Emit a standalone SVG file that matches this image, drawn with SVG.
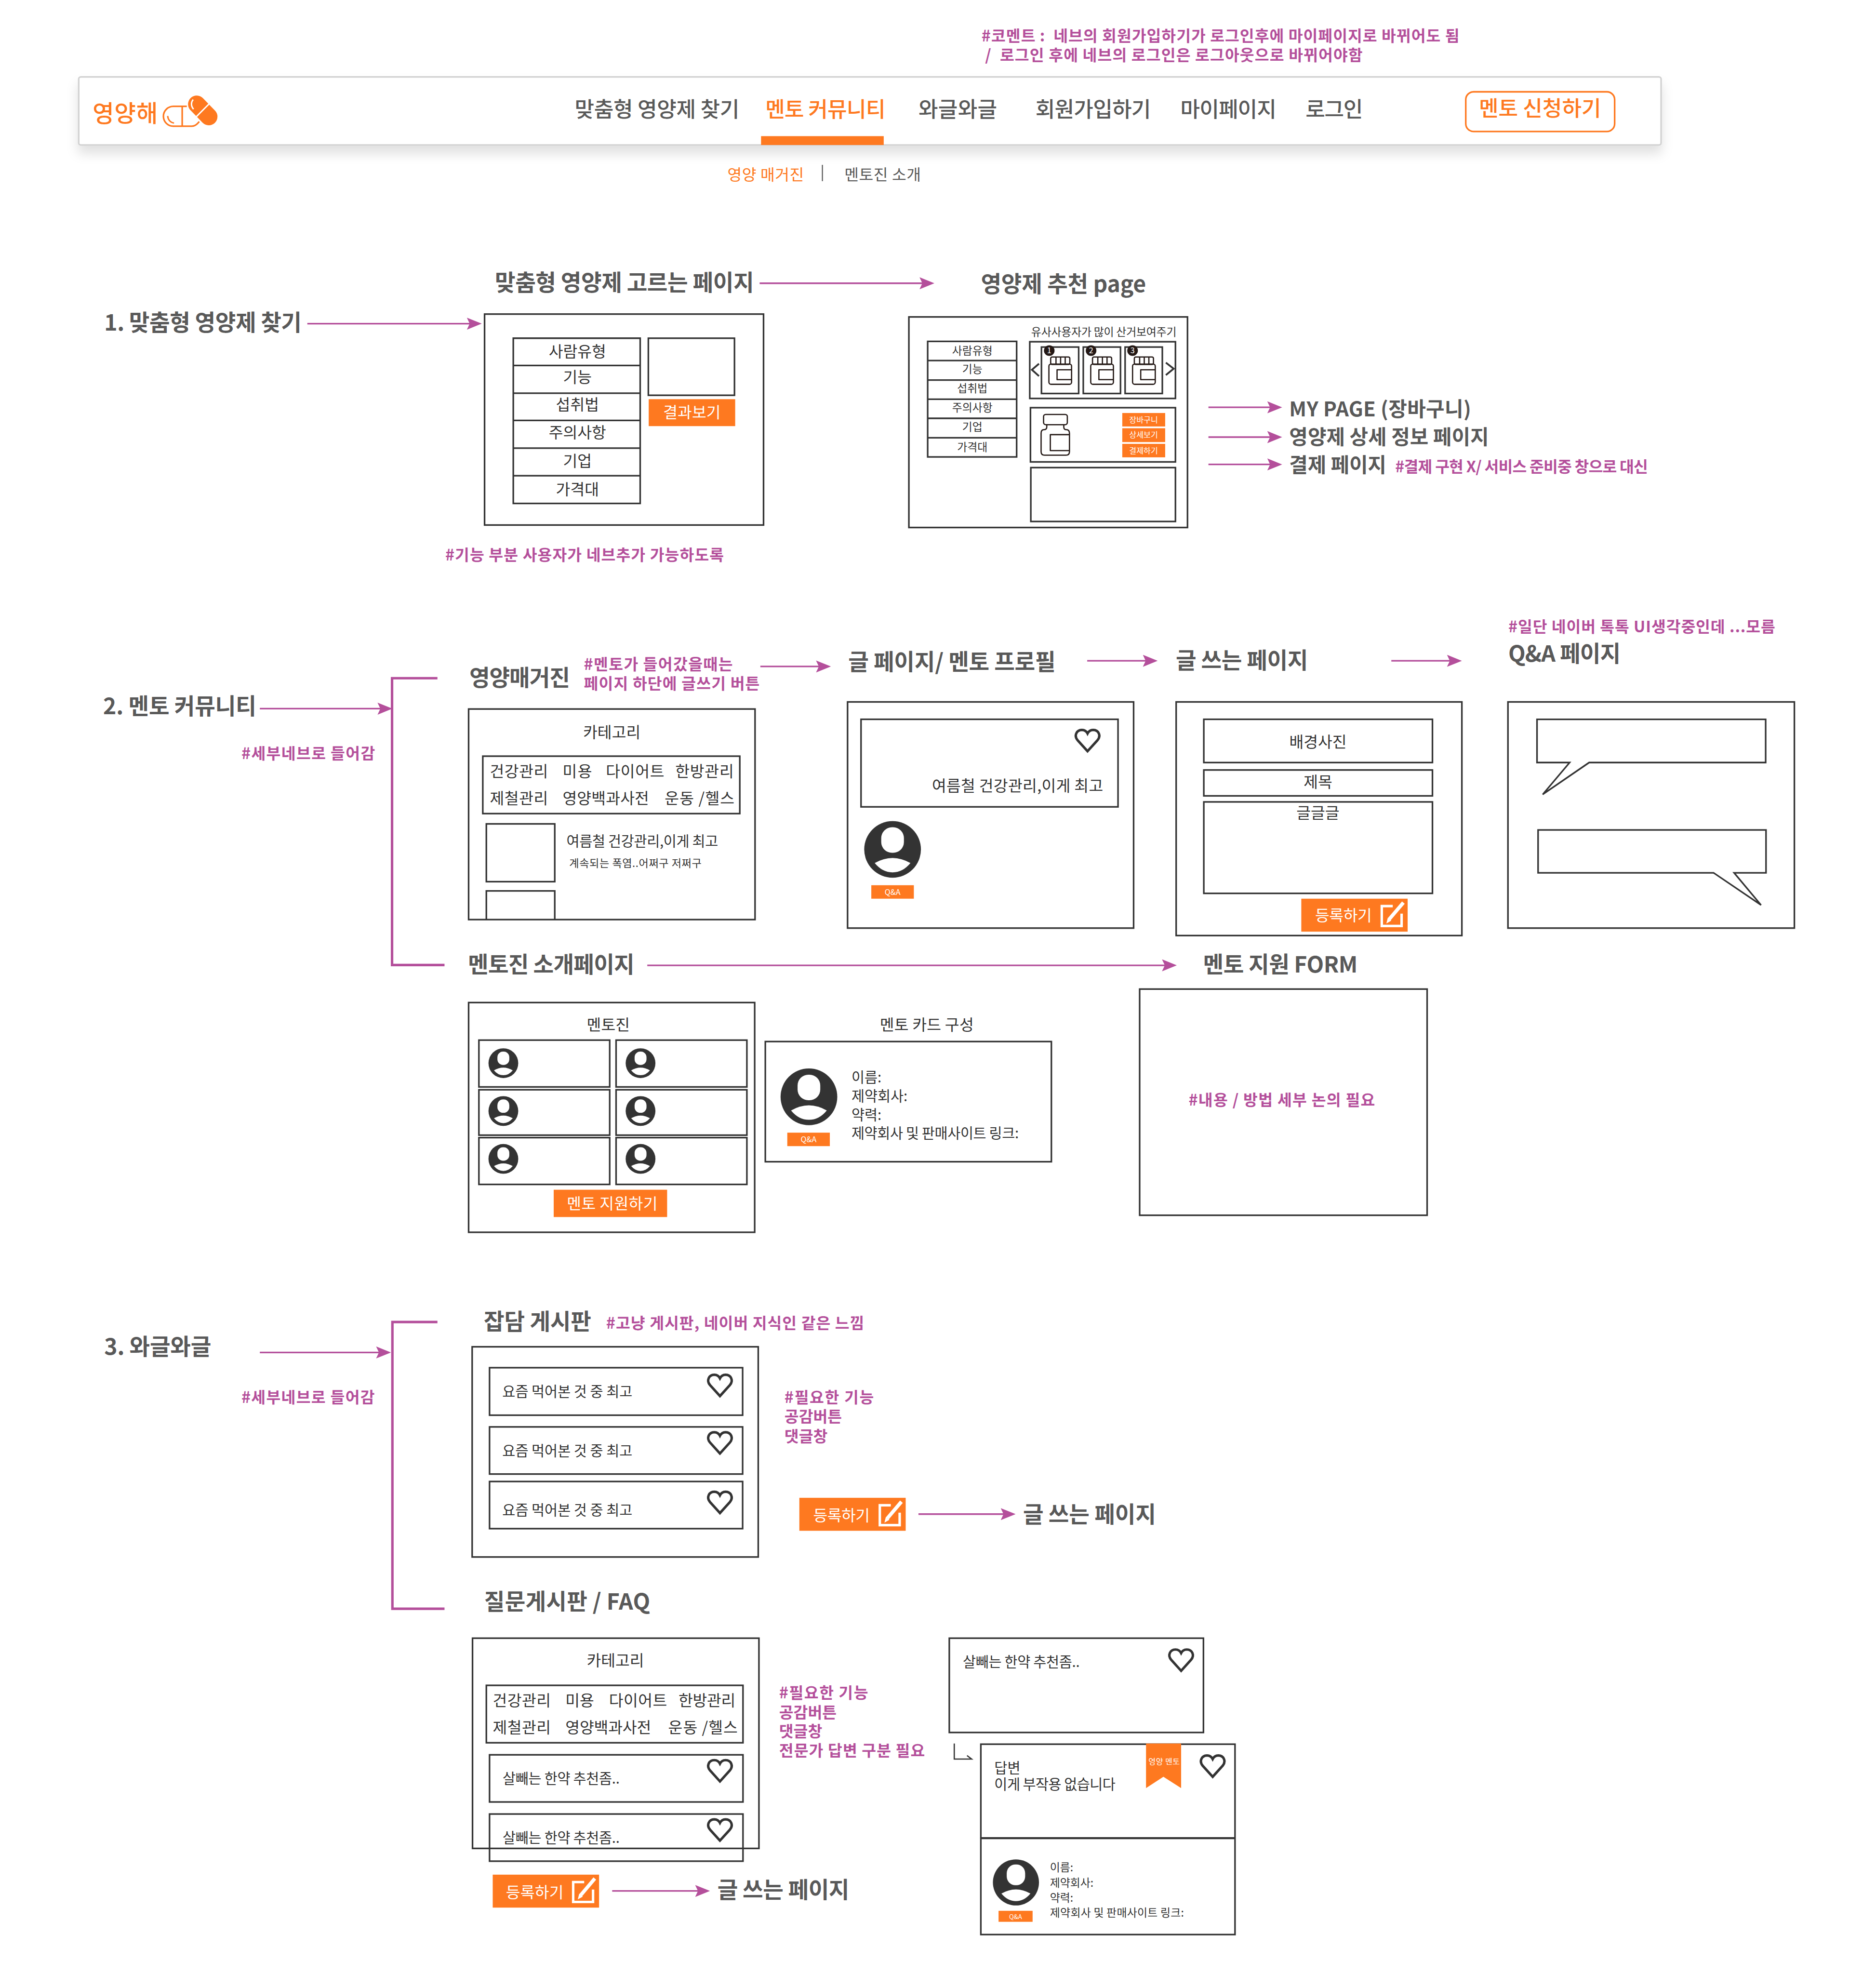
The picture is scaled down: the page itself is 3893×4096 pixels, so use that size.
<svg xmlns="http://www.w3.org/2000/svg" xmlns:xlink="http://www.w3.org/1999/xlink" width="3893" height="4096" viewBox="0 0 3893 4096">
<style>
text{font-family:"Noto Sans CJK KR","Noto Sans",sans-serif;transform:translate(4px,3px);white-space:pre}
.h{font-size:63px;fill:#595959;font-weight:700}
.h58{font-size:57px}
.n{font-size:60px;fill:#595959;font-weight:500}
.p{font-size:44px;fill:#b44f9b;font-weight:700}
.b{font-size:44px;fill:#333}
.m{text-anchor:middle}
.s40{font-size:40px}
.s31{font-size:31px}
.s30{font-size:30px}
.w{fill:#fff}
.o{fill:#fe7920}
.f{fill:none;stroke:#333;stroke-width:4.5}
.btn{fill:#fe7920}
.a{fill:none;stroke:#b44f9b;stroke-width:4.5;marker-end:url(#ah)}
.br{fill:none;stroke:#b44f9b;stroke-width:7}
.bt{fill:none;stroke:#231815;stroke-width:3.5;stroke-linejoin:round}
.hrt{fill:none;stroke:#333;stroke-width:7;stroke-linejoin:miter}
.ch{fill:none;stroke:#333;stroke-width:5}
.ed{fill:none;stroke:#fff;stroke-width:7}
</style>
<defs>
<marker id="ah" markerUnits="userSpaceOnUse" markerWidth="42" markerHeight="34" refX="30" refY="17" orient="auto"><path d="M0 0L42 17L0 34L8 17Z" fill="#b44f9b"/></marker>
<filter id="sh" x="-3%" y="-30%" width="106%" height="170%"><feDropShadow dx="0" dy="22" stdDeviation="16" flood-color="#000" flood-opacity="0.12"/></filter>
<g id="heart"><path class="hrt" d="M0 30L-28 -1C-39 -14 -31 -30 -16 -30C-8 -30 -3 -26 0 -20C3 -26 8 -30 16 -30C31 -30 39 -14 28 -1Z"/></g>
<g id="av"><circle r="1" fill="#333"/><rect x="-.4" y="-.78" width=".8" height=".9" rx=".38" fill="#fff"/><path d="M-.63 .48Q0 .12 .63 .48Q.36 .81 0 .81Q-.36 .81 -.63 .48Z" fill="#fff"/></g>
<g id="bottle"><rect class="bt" x="5" y="0" width="54" height="21" rx="4"/><path class="bt" d="M20 0V21M33 0V21M46 0V21"/><rect class="bt" x="0" y="20" width="64" height="57" rx="6"/><path class="bt" d="M64 36H23V64H64"/></g>
<g id="edit"><rect width="300" height="93" class="btn"/><path class="ed" d="M258 21H227V77H283V42"/><path d="M248 58L288 11" stroke="#fff" stroke-width="10" fill="none"/><path d="M240 70L244 54L254 62Z" fill="#fff"/></g>
</defs>
<rect width="3893" height="4096" fill="#fff"/>
<g transform="scale(0.7356) translate(-6 0)">

<g id="nav">
<rect x="228" y="217" width="4464" height="192" rx="6" fill="#fff" stroke="#d2d2d2" stroke-width="4.5" filter="url(#sh)"/>
<rect x="2153" y="384" width="346" height="25" class="o"/>
<text x="263" y="341" class="o" style="font-size:66px;font-weight:500" textLength="184">영양해</text>
<g id="logo-pill" transform="translate(2 0)">
<path d="M531 300H493A28 28 0 0 0 493 356H545C553 356 560 351 566 343" fill="none" stroke="#fe7920" stroke-width="4.5"/>
<path d="M518 300V356" stroke="#fe7920" stroke-width="4.5"/>
<path d="M477 327C478 338 485 346 495 347" fill="none" stroke="#fe7920" stroke-width="4"/>
<path d="M559 294L593 329" stroke="#fff" stroke-width="56" stroke-linecap="round"/>
<path d="M559 294L593 329" stroke="#fe7920" stroke-width="49" stroke-linecap="round"/>
<path d="M558 329L596 291" stroke="#fff" stroke-width="4"/>
<path d="M549 281C542 289 543 300 550 308" fill="none" stroke="#fff" stroke-width="4"/>
</g>
<text x="1623" y="327" class="n" textLength="465">맞춤형 영양제 찾기</text>
<text x="2161" y="327" class="n o" textLength="339">멘토 커뮤니티</text>
<text x="2593" y="327" class="n" textLength="222">와글와글</text>
<text x="2923" y="327" class="n" textLength="326">회원가입하기</text>
<text x="3332" y="327" class="n" textLength="271">마이페이지</text>
<text x="3685" y="327" class="n" textLength="162">로그인</text>
<rect x="4141" y="259" width="420" height="112" rx="22" fill="#fff" stroke="#fe7920" stroke-width="4.5"/>
<text x="4174" y="324" class="n o" textLength="345">멘토 신청하기</text>
<text x="2054" y="506" class="b o" textLength="216">영양 매거진</text>
<path d="M2326 465V511" stroke="#555" stroke-width="3"/>
<text x="2384" y="506" class="b" style="fill:#595959" textLength="216">멘토진 소개</text>
</g>
<g id="comment-top">
<text x="2771" y="114" class="p" textLength="1348">#코멘트 :  네브의 회원가입하기가 로그인후에 마이페이지로 바뀌어도 됨</text>
<text x="2781" y="168" class="p" textLength="1065">/  로그인 후에 네브의 로그인은 로그아웃으로 바뀌어야함</text>
</g>

<g id="connectors">
<path class="a" d="M873 913H1353"/>
<path class="a" d="M2149 799H2630"/>
<path class="a" d="M3415 1149H3611"/>
<path class="a" d="M3415 1233H3611"/>
<path class="a" d="M3415 1310H3611"/>
<path class="a" d="M739 1999H1101"/>
<path class="a" d="M2151 1880H2338"/>
<path class="a" d="M3073 1864H3260"/>
<path class="a" d="M3931 1864H4118"/>
<path class="a" d="M1832 2723H3314"/>
<path class="a" d="M739 3815H1097"/>
<path class="a" d="M2597 4271H2859"/>
<path class="a" d="M1733 5334H1997"/>
<path class="br" d="M1240 1913H1112V2722H1260"/>
<path class="br" d="M1240 3729H1113V4538H1260"/>
</g>

<g id="sec1">
<text x="296" y="930" class="h" textLength="557">1. 맞춤형 영양제 찾기</text>
<text x="1398" y="817" class="h" textLength="731">맞춤형 영양제 고르는 페이지</text>
<text x="2769" y="821" class="h" textLength="466">영양제 추천 page</text>
<text x="1258" y="1578" class="p" textLength="786">#기능 부분 사용자가 네브추가 가능하도록</text>
<text x="3639" y="1172" class="h h58" textLength="513">MY PAGE (장바구니)</text>
<text x="3639" y="1250" class="h h58" textLength="563">영양제 상세 정보 페이지</text>
<text x="3639" y="1329" class="h h58" textLength="274">결제 페이지</text>
<text x="3938" y="1329" class="p" textLength="713">#결제 구현 X/ 서비스 준비중 창으로 대신</text>
</g>

<g id="page-select">
<rect class="f" x="1373" y="886" width="787" height="595"/>
<path class="f" d="M1454 954H1812V1420H1454ZM1454 1031H1812M1454 1109H1812M1454 1186H1812M1454 1264H1812M1454 1342H1812"/>
<text x="1631" y="1005" class="b m">사람유형</text>
<text x="1631" y="1076" class="b m">기능</text>
<text x="1631" y="1154" class="b m">섭취법</text>
<text x="1631" y="1233" class="b m">주의사항</text>
<text x="1631" y="1313" class="b m">기업</text>
<text x="1631" y="1393" class="b m">가격대</text>
<rect class="f" x="1835" y="954" width="243" height="161"/>
<rect class="btn" x="1836" y="1126" width="244" height="76"/>
<text x="1954" y="1176" class="b m w">결과보기</text>
</g>

<g id="page-recommend">
<rect class="f" x="2570" y="894" width="786" height="594"/>
<path class="f" d="M2623 963H2874V1289H2623ZM2623 1017H2874M2623 1072H2874M2623 1126H2874M2623 1180H2874M2623 1235H2874"/>
<text x="2745" y="997" class="b m s31">사람유형</text>
<text x="2745" y="1049" class="b m s31">기능</text>
<text x="2745" y="1103" class="b m s31">섭취법</text>
<text x="2745" y="1158" class="b m s31">주의사항</text>
<text x="2745" y="1213" class="b m s31">기업</text>
<text x="2745" y="1269" class="b m s31">가격대</text>
<text x="2911" y="945" class="b s31" textLength="410">유사사용자가 많이 산거보여주기</text>
<rect class="f" x="2911" y="964" width="411" height="160"/>
<path class="ch" d="M2937 1026L2917 1043L2937 1061M3295 1023L3317 1040L3295 1058"/>
<rect class="f" x="2944" y="979" width="105" height="131"/>
<rect class="f" x="3062" y="979" width="105" height="131"/>
<rect class="f" x="3180" y="979" width="105" height="131"/>
<use href="#bottle" xlink:href="#bottle" x="2965" y="1007"/>
<use href="#bottle" xlink:href="#bottle" x="3083" y="1007"/>
<use href="#bottle" xlink:href="#bottle" x="3201" y="1007"/>
<circle cx="2966" cy="989" r="15" fill="#231815"/>
<circle cx="3084" cy="989" r="15" fill="#231815"/>
<circle cx="3201" cy="989" r="15" fill="#231815"/>
<text x="2962" y="994" class="m w" style="font-size:22px">1</text>
<text x="3080" y="994" class="m w" style="font-size:22px">2</text>
<text x="3197" y="994" class="m w" style="font-size:22px">3</text>
<rect class="f" x="2913" y="1150" width="409" height="153"/>
<rect class="bt" x="2950" y="1169" width="67" height="29" rx="6"/>
<path class="bt" d="M2959 1198V1204Q2959 1212 2951 1212Q2943 1212 2943 1222V1274Q2943 1284 2953 1284H3013Q3023 1284 3023 1274V1222Q3023 1212 3014 1212Q3007 1212 3007 1204V1198"/>
<path class="bt" d="M3023 1226H2969V1271H3023"/>
<rect class="btn" x="3172" y="1165" width="121" height="38"/>
<rect class="btn" x="3172" y="1208" width="121" height="39"/>
<rect class="btn" x="3172" y="1252" width="121" height="38"/>
<text x="3228" y="1189" class="m w" style="font-size:22px">장바구니</text>
<text x="3228" y="1232" class="m w" style="font-size:22px">상세보기</text>
<text x="3228" y="1276" class="m w" style="font-size:22px">결제하기</text>
<rect class="f" x="2914" y="1319" width="408" height="152"/>
</g>

<g id="sec2">
<text x="293" y="2012" class="h" textLength="432">2. 멘토 커뮤니티</text>
<text x="683" y="2138" class="p" textLength="377">#세부네브로 들어감</text>
<text x="1326" y="1932" class="h" textLength="284">영양매거진</text>
<text x="1649" y="1887" class="p" textLength="420">#멘토가 들어갔을때는</text>
<text x="1649" y="1941" class="p" textLength="496">페이지 하단에 글쓰기 버튼</text>
<text x="2395" y="1886" class="h" textLength="585">글 페이지/ 멘토 프로필</text>
<text x="3319" y="1882" class="h" textLength="373">글 쓰는 페이지</text>
<text x="4257" y="1781" class="p" textLength="753">#일단 네이버 톡톡 UI생각중인데 ...모름</text>
<text x="4257" y="1864" class="h" textLength="317">Q&amp;A 페이지</text>
<text x="1322" y="2741" class="h" textLength="470">멘토진 소개페이지</text>
<text x="3396" y="2741" class="h" textLength="436">멘토 지원 FORM</text>
</g>

<g id="page-magazine">
<rect class="f" x="1328" y="2000" width="808" height="594"/>
<text x="1728" y="2078" class="b m">카테고리</text>
<rect class="f" x="1368" y="2133" width="725" height="162"/>
<text x="1384" y="2189" class="b" textLength="164">건강관리</text>
<text x="1589" y="2189" class="b" textLength="83">미용</text>
<text x="1711" y="2189" class="b" textLength="165">다이어트</text>
<text x="1907" y="2189" class="b" textLength="165">한방관리</text>
<text x="1384" y="2265" class="b" textLength="164">제철관리</text>
<text x="1589" y="2265" class="b" textLength="244">영양백과사전</text>
<text x="1877" y="2265" class="b" textLength="197">운동 /헬스</text>
<rect class="f" x="1378" y="2324" width="193" height="163"/>
<path class="f" d="M1378 2594V2513H1571V2594"/>
<text x="1600" y="2384" class="b s40" textLength="428">여름철 건강관리,이게 최고</text>
<text x="1608" y="2442" class="b s30" textLength="373">계속되는 폭염..어쩌구 저쩌구</text>
</g>

<g id="page-article">
<rect class="f" x="2397" y="1980" width="807" height="638"/>
<rect class="f" x="2435" y="2029" width="725" height="247"/>
<use href="#heart" xlink:href="#heart" x="3074" y="2089"/>
<text x="2631" y="2229" class="b" textLength="483">여름철 건강관리,이게 최고</text>
<use href="#av" xlink:href="#av" transform="translate(2524 2396) scale(80)"/>
<rect class="btn" x="2464" y="2497" width="120" height="38"/>
<text x="2520" y="2521" class="m w" style="font-size:22px">Q&amp;A</text>
</g>

<g id="page-write">
<rect class="f" x="3324" y="1980" width="806" height="659"/>
<rect class="f" x="3402" y="2029" width="645" height="122"/>
<text x="3720" y="2105" class="b m">배경사진</text>
<rect class="f" x="3402" y="2172" width="645" height="73"/>
<text x="3720" y="2218" class="b m">제목</text>
<rect class="f" x="3402" y="2262" width="645" height="258"/>
<text x="3720" y="2306" class="b m">글글글</text>
<use href="#edit" xlink:href="#edit" x="3677" y="2535"/>
<text x="3712" y="2595" class="b w" textLength="160">등록하기</text>
</g>

<g id="page-qa">
<rect class="f" x="4260" y="1980" width="808" height="638"/>
<path class="f" d="M4342 2029H4987V2151H4489L4358 2241L4434 2151H4342Z"/>
<path class="f" d="M4345 2341H4988V2462H4898L4974 2553L4840 2462H4345Z"/>
</g>

<g id="page-mentozine">
<rect class="f" x="1328" y="2828" width="807" height="648"/>
<text x="1718" y="2903" class="b m">멘토진</text>
<rect class="f" x="1357" y="2934" width="369" height="132"/>
<rect class="f" x="1744" y="2934" width="369" height="132"/>
<rect class="f" x="1357" y="3074" width="369" height="128"/>
<rect class="f" x="1744" y="3074" width="369" height="128"/>
<rect class="f" x="1357" y="3209" width="369" height="132"/>
<rect class="f" x="1744" y="3209" width="369" height="132"/>
<use href="#av" xlink:href="#av" transform="translate(1426 2999) scale(42)"/>
<use href="#av" xlink:href="#av" transform="translate(1813 2999) scale(42)"/>
<use href="#av" xlink:href="#av" transform="translate(1426 3134) scale(42)"/>
<use href="#av" xlink:href="#av" transform="translate(1813 3134) scale(42)"/>
<use href="#av" xlink:href="#av" transform="translate(1426 3269) scale(42)"/>
<use href="#av" xlink:href="#av" transform="translate(1813 3269) scale(42)"/>
<rect class="btn" x="1568" y="3356" width="320" height="77"/>
<text x="1601" y="3408" class="b w" textLength="256">멘토 지원하기</text>
</g>

<g id="card-mentor">
<text x="2484" y="2903" class="b" textLength="265">멘토 카드 구성</text>
<rect class="f" x="2165" y="2938" width="807" height="339"/>
<use href="#av" xlink:href="#av" transform="translate(2288 3094) scale(80)"/>
<rect class="btn" x="2227" y="3195" width="120" height="38"/>
<text x="2283" y="3219" class="m w" style="font-size:22px">Q&amp;A</text>
<text x="2404" y="3050" class="b s40">이름:</text>
<text x="2404" y="3103" class="b s40">제약회사:</text>
<text x="2404" y="3156" class="b s40">약력:</text>
<text x="2404" y="3208" class="b s40" textLength="472">제약회사 및 판매사이트 링크:</text>
</g>

<g id="page-form">
<rect class="f" x="3221" y="2790" width="811" height="638"/>
<text x="3355" y="3116" class="p" textLength="526">#내용 / 방법 세부 논의 필요</text>
</g>

<g id="sec3">
<text x="296" y="3819" class="h" textLength="302">3. 와글와글</text>
<text x="683" y="3954" class="p" textLength="376">#세부네브로 들어감</text>
<text x="1367" y="3748" class="h" textLength="303">잡담 게시판</text>
<text x="1712" y="3745" class="p" textLength="728">#고냥 게시판, 네이버 지식인 같은 느낌</text>
<text x="2215" y="3954" class="p" textLength="252">#필요한 기능</text>
<text x="2215" y="4009" class="p">공감버튼</text>
<text x="2215" y="4065" class="p">댓글창</text>
<text x="2888" y="4291" class="h" textLength="375">글 쓰는 페이지</text>
<text x="1368" y="4537" class="h" textLength="468">질문게시판 / FAQ</text>
<text x="2200" y="4788" class="p" textLength="251">#필요한 기능</text>
<text x="2200" y="4843" class="p">공감버튼</text>
<text x="2200" y="4897" class="p">댓글창</text>
<text x="2200" y="4951" class="p" textLength="411">전문가 답변 구분 필요</text>
<text x="2026" y="5350" class="h" textLength="372">글 쓰는 페이지</text>
</g>

<g id="page-board">
<rect class="f" x="1338" y="3799" width="807" height="593"/>
<rect class="f" x="1387" y="3858" width="714" height="134"/>
<rect class="f" x="1387" y="4025" width="714" height="133"/>
<rect class="f" x="1387" y="4179" width="714" height="133"/>
<text x="1419" y="3937" class="b s40" textLength="367">요즘 먹어본 것 중 최고</text>
<text x="1419" y="4104" class="b s40" textLength="367">요즘 먹어본 것 중 최고</text>
<text x="1419" y="4271" class="b s40" textLength="367">요즘 먹어본 것 중 최고</text>
<use href="#heart" xlink:href="#heart" x="2037" y="3908"/>
<use href="#heart" xlink:href="#heart" x="2037" y="4070"/>
<use href="#heart" xlink:href="#heart" x="2037" y="4238"/>
<use href="#edit" xlink:href="#edit" x="2261" y="4225"/>
<text x="2296" y="4287" class="b w" textLength="160">등록하기</text>
</g>

<g id="page-faq">
<rect class="f" x="1339" y="4621" width="808" height="593"/>
<text x="1738" y="4697" class="b m">카테고리</text>
<rect class="f" x="1378" y="4754" width="724" height="162"/>
<text x="1392" y="4809" class="b" textLength="164">건강관리</text>
<text x="1597" y="4809" class="b" textLength="81">미용</text>
<text x="1720" y="4809" class="b" textLength="164">다이어트</text>
<text x="1916" y="4809" class="b" textLength="161">한방관리</text>
<text x="1392" y="4886" class="b" textLength="164">제철관리</text>
<text x="1597" y="4886" class="b" textLength="242">영양백과사전</text>
<text x="1887" y="4886" class="b" textLength="196">운동 /헬스</text>
<rect class="f" x="1387" y="4950" width="715" height="133"/>
<rect class="f" x="1387" y="5117" width="715" height="133"/>
<text x="1420" y="5028" class="b s40" textLength="330">살빼는 한약 추천좀..</text>
<text x="1420" y="5195" class="b s40" textLength="330">살빼는 한약 추천좀..</text>
<use href="#heart" xlink:href="#heart" x="2037" y="4995"/>
<use href="#heart" xlink:href="#heart" x="2037" y="5162"/>
<use href="#edit" xlink:href="#edit" x="1396" y="5288"/>
<text x="1429" y="5350" class="b w" textLength="163">등록하기</text>
</g>

<g id="page-answer">
<rect class="f" x="2684" y="4621" width="717" height="266"/>
<text x="2718" y="4699" class="b s40" textLength="330">살빼는 한약 추천좀..</text>
<use href="#heart" xlink:href="#heart" x="3338" y="4683"/>
<path d="M2698 4918V4962H2747L2734 4952" fill="none" stroke="#333" stroke-width="3.5"/>
<rect class="f" x="2773" y="4920" width="717" height="537"/>
<path d="M2771 5185H3491" stroke="#333" stroke-width="6"/>
<path class="btn" d="M3239 4918H3338V5044L3288 5012L3239 5044Z"/>
<text x="3242" y="4974" class="w" style="font-size:22px" textLength="88">영양 멘토</text>
<use href="#heart" xlink:href="#heart" x="3427" y="4982"/>
<text x="2807" y="4998" class="b s40">답변</text>
<text x="2807" y="5045" class="b s40" textLength="342">이게 부작용 없습니다</text>
<use href="#av" xlink:href="#av" transform="translate(2872 5310) scale(65)"/>
<rect class="btn" x="2823" y="5390" width="96" height="31"/>
<text x="2867" y="5410" class="m w" style="font-size:18px">Q&amp;A</text>
<text x="2964" y="5276" class="b s31">이름:</text>
<text x="2964" y="5319" class="b s31">제약회사:</text>
<text x="2964" y="5362" class="b s31">약력:</text>
<text x="2964" y="5404" class="b s31" textLength="378">제약회사 및 판매사이트 링크:</text>
</g>
</g>
</svg>
